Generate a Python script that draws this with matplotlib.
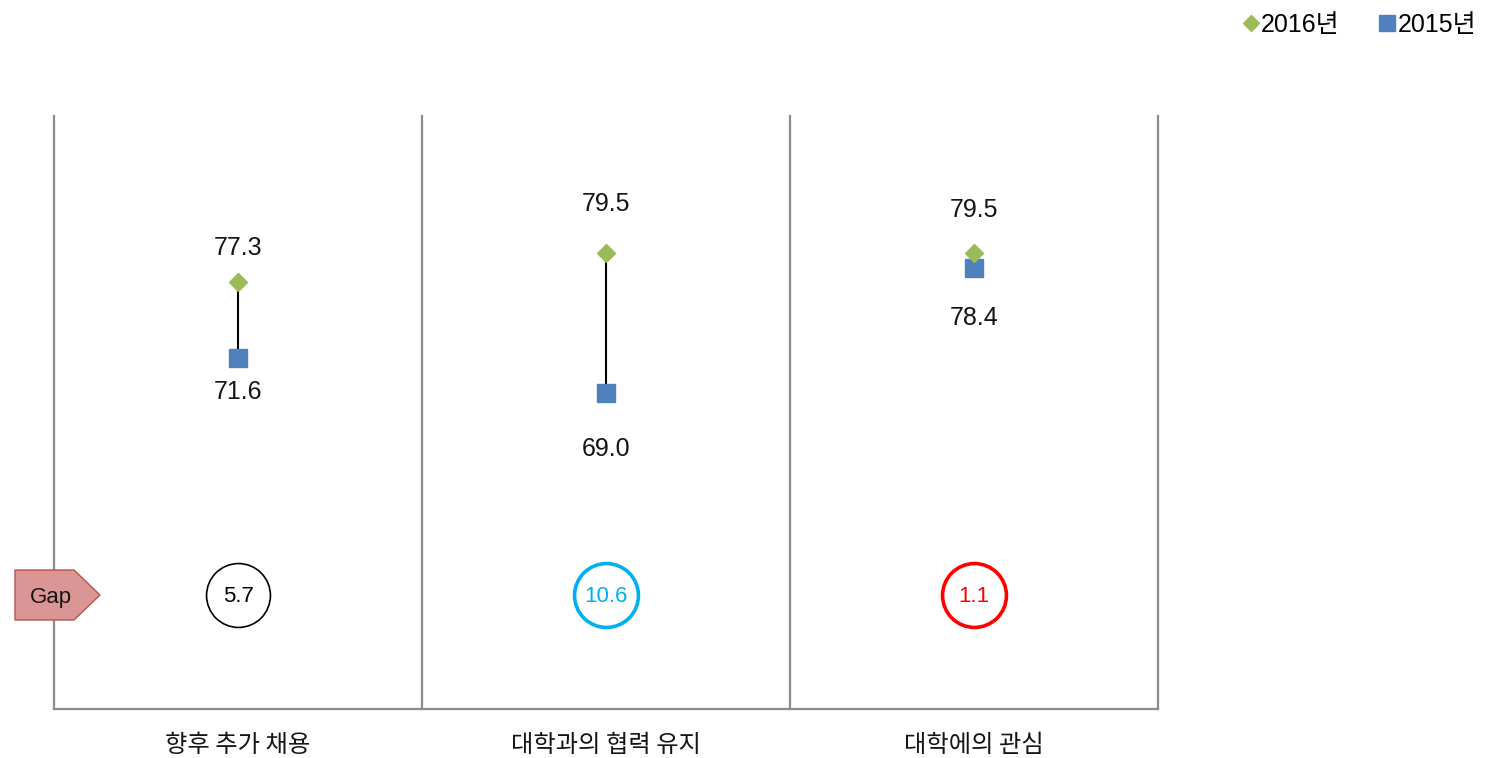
import matplotlib
matplotlib.use("Agg")
import matplotlib.pyplot as plt
from matplotlib.patches import Polygon
from matplotlib.lines import Line2D
import matplotlib.transforms as mtransforms

plt.rcParams['font.family'] = ['Liberation Sans', 'Noto Sans CJK KR', 'DejaVu Sans']
KR = ['Noto Sans CJK KR', 'DejaVu Sans']

# ---- data ----
categories = ["향후 추가 채용", "대학과의 협력 유지", "대학에의 관심"]
values_2016 = [77.3, 79.5, 79.5]
values_2015 = [71.6, 69.0, 78.4]
gaps = [5.7, 10.6, 1.1]
series_names = ["2016년", "2015년"]

# ---- style ----
c2016 = "#9BBB59"
c2015 = "#4F81BD"
gap_edge = ["black", "#00B0F0", "#FF0000"]
gap_lw = [1.2, 2.6, 2.6]
label_off_2016 = [24.5, 35, 31]   # points above marker
label_off_2015 = [-24, -40, -36]  # points below marker
axis_color = "#8C8C8C"
txt_color = "#151515"

W, H = 1490, 758
fig = plt.figure(figsize=(W / 100, H / 100), dpi=100)
ax = fig.add_axes([54 / W, 1 - 709 / H, (1158 - 54) / W, (709 - 116) / H])
ax.set_xlim(0, len(categories))
ax.set_ylim(45.3, 89.78)
for s in ax.spines.values():
    s.set_visible(False)
ax.set_xticks([])
ax.set_yticks([])
ax.patch.set_alpha(0)

# frame lines: bottom + separators
ax.axhline(45.3, color=axis_color, lw=1.6, clip_on=False)
for i in range(len(categories) + 1):
    ax.axvline(i, color=axis_color, lw=1.6, clip_on=False)

xs = [i + 0.5 for i in range(len(categories))]

for i, x in enumerate(xs):
    ax.plot([x, x], [values_2015[i], values_2016[i]], color="black", lw=1.5, zorder=2)

ax.plot(xs, values_2015, ls="none", marker="s", ms=13.5, color=c2015, zorder=3)
ax.plot(xs, values_2016, ls="none", marker="D", ms=9.5, color=c2016, zorder=4)

for i, x in enumerate(xs):
    ax.annotate(f"{values_2016[i]:.1f}", (x, values_2016[i]), xytext=(0, label_off_2016[i]),
                textcoords="offset points", ha="center", va="center", fontsize=18, color=txt_color)
    ax.annotate(f"{values_2015[i]:.1f}", (x, values_2015[i]), xytext=(0, label_off_2015[i]),
                textcoords="offset points", ha="center", va="center", fontsize=18, color=txt_color)

# gap circles
trans = mtransforms.blended_transform_factory(ax.transData, ax.transAxes)
gy = (709 - 595) / (709 - 116)
for i, x in enumerate(xs):
    ax.scatter([x], [gy], transform=trans, s=46 ** 2, facecolor="white",
               edgecolor=gap_edge[i], linewidth=gap_lw[i], zorder=5, clip_on=False)
    ax.text(x, gy - 0.003, f"{gaps[i]:.1f}", transform=trans, ha="center", va="center",
            fontsize=16, color=gap_edge[i], zorder=6)

# category labels
for i, x in enumerate(xs):
    ax.text(x, -0.061, categories[i], transform=trans, ha="center", va="center",
            fontsize=17.5, color=txt_color, family=KR)

# Gap pentagon tag
pts = [(15, 570), (74, 570), (100, 595), (74, 620), (15, 620)]
poly = Polygon([(px / W, 1 - py / H) for px, py in pts], closed=True,
               transform=fig.transFigure, facecolor="#D99694", edgecolor="#C0504D",
               lw=1.0, zorder=10)
fig.patches.append(poly)
fig.text(51 / W, 1 - 597 / H, "Gap", ha="center", va="center", fontsize=16, color=txt_color, zorder=11)

# legend
handles = [Line2D([], [], ls="none", marker="D", ms=8, color=c2016),
           Line2D([], [], ls="none", marker="s", ms=11, color=c2015)]
fig.legend(handles, series_names, loc="upper right", bbox_to_anchor=(1 - 4 / W, 1 - 3 / H),
           ncol=2, frameon=False, fontsize=18, handlelength=0.6, handletextpad=0.1,
           columnspacing=1.6, borderaxespad=0)

fig.savefig("out.png", dpi=100, facecolor="white")
